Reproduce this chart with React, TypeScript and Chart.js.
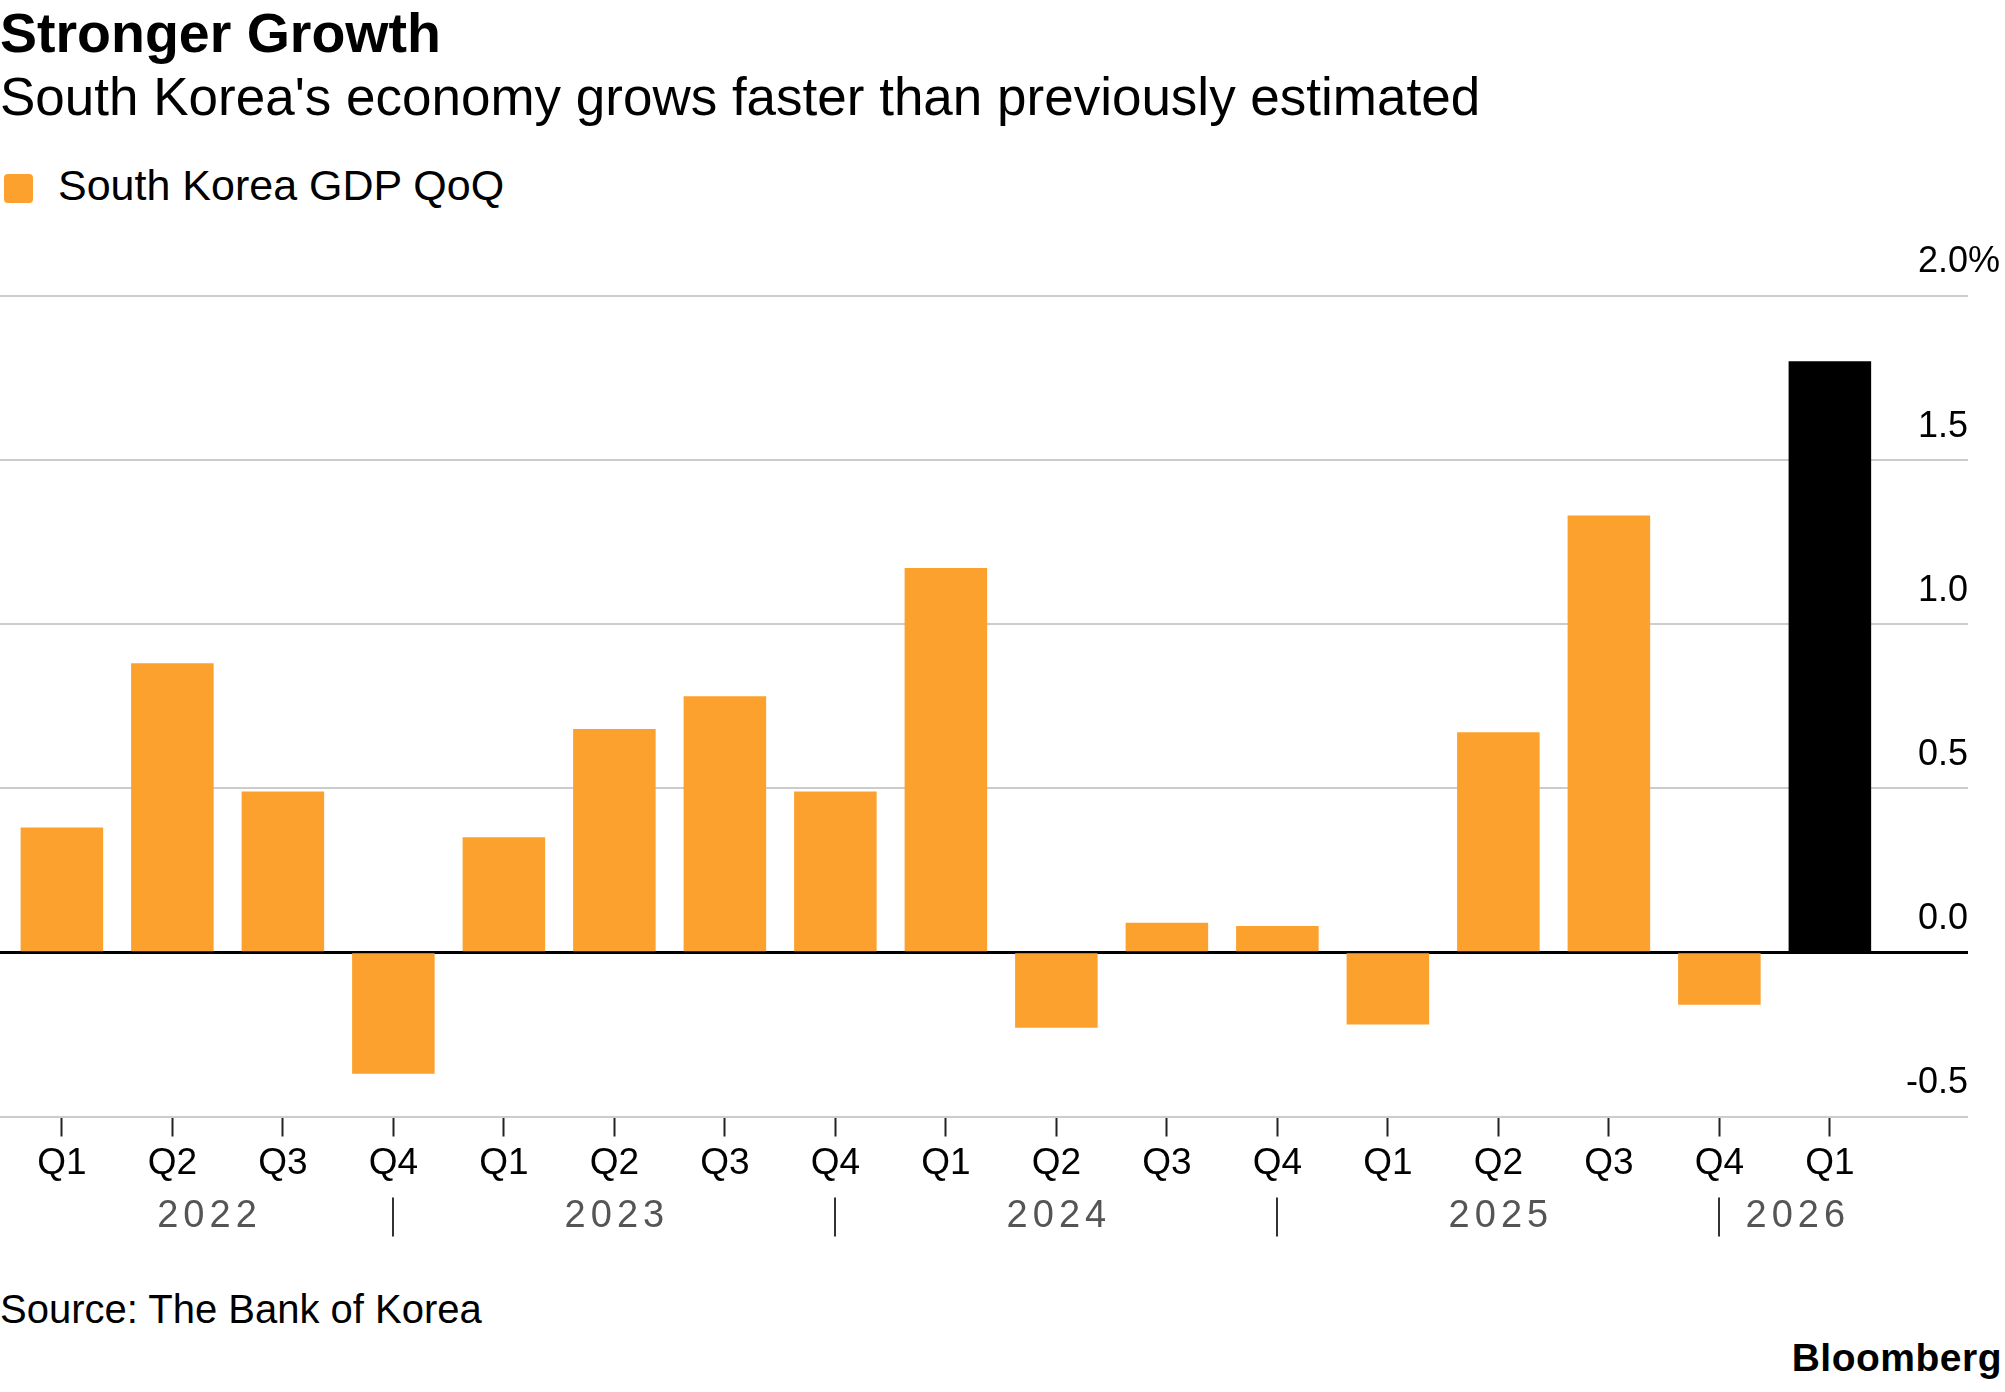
import React, { useEffect, useRef } from 'react';
import { Chart, registerables } from 'chart.js';

Chart.register(...registerables);

// ---- data ----
const quarters = ['Q1', 'Q2', 'Q3', 'Q4', 'Q1', 'Q2', 'Q3', 'Q4', 'Q1', 'Q2', 'Q3', 'Q4', 'Q1', 'Q2', 'Q3', 'Q4', 'Q1'];
const gdpQoQ = [0.38, 0.88, 0.49, -0.37, 0.35, 0.68, 0.78, 0.49, 1.17, -0.23, 0.09, 0.08, -0.22, 0.67, 1.33, -0.16, 1.8];
const years = ['2022', '2023', '2024', '2025', '2026'];
const yTicks = [-0.5, 0, 0.5, 1.0, 1.5, 2.0];

// ---- styles ----
const ORANGE = '#FCA12D';
const BLACK = '#000000';
const FONT = "'Liberation Sans', Arial, Helvetica, sans-serif";
const Y_LABEL_OFFSET = -33;
const Y_PAD = 0;
const BAR_PCT = 0.747;

export default function App() {
  const ref = useRef<HTMLCanvasElement>(null);

  useEffect(() => {
    const canvas = ref.current;
    if (!canvas) return;

    const yearPlugin = {
      id: 'yearAxis',
      afterDraw(chart: any) {
        const { ctx, chartArea, scales } = chart;
        const xs = scales.x;
        const ys = scales.y;
        const lastIdx = quarters.length - 1;
        const half = BAR_PCT / 2;
        ctx.save();
        // year separators at each Q4 tick
        ctx.strokeStyle = '#333333';
        ctx.lineWidth = 2;
        years.forEach((_, k) => {
          const q4 = 4 * k + 3;
          if (q4 < lastIdx) {
            const px = Math.round(xs.getPixelForValue(q4));
            ctx.beginPath();
            ctx.moveTo(px, chartArea.bottom + 81);
            ctx.lineTo(px, chartArea.bottom + 120);
            ctx.stroke();
          }
        });
        // year labels
        ctx.font = `38px ${FONT}`;
        ctx.fillStyle = '#555555';
        ctx.textAlign = 'center';
        ctx.textBaseline = 'alphabetic';
        (ctx as any).letterSpacing = '5px';
        years.forEach((yr, k) => {
          const start = Math.max(-half, 4 * k - 1);
          const end = Math.min(lastIdx + half, 4 * k + 3);
          const cx = (xs.getPixelForValue(start) + xs.getPixelForValue(end)) / 2;
          ctx.fillText(yr, cx + 2.5, chartArea.bottom + 110.5);
        });
        (ctx as any).letterSpacing = '0px';
        // hanging percent sign on top y label
        ctx.font = `36px ${FONT}`;
        ctx.fillStyle = '#000000';
        ctx.textAlign = 'left';
        ctx.textBaseline = 'middle';
        ctx.fillText('%', chartArea.right + Y_PAD, ys.getPixelForValue(ys.max) + Y_LABEL_OFFSET);
        ctx.restore();
      },
    };

    const chart = new Chart(canvas, {
      type: 'bar',
      data: {
        datasets: [
          {
            label: 'South Korea GDP QoQ',
            data: gdpQoQ.map((v, i) => ({ x: i, y: v })),
            backgroundColor: gdpQoQ.map((_, i) => (i === gdpQoQ.length - 1 ? BLACK : ORANGE)),
            borderWidth: 0,
            barPercentage: BAR_PCT,
            categoryPercentage: 1,
          },
        ],
      },
      options: {
        animation: false,
        responsive: true,
        maintainAspectRatio: false,
        layout: { padding: { top: 65.5, right: 37, left: 0, bottom: 0 } },
        plugins: {
          legend: { display: false },
          tooltip: { enabled: false },
          title: { display: false },
        },
        scales: {
          x: {
            type: 'linear',
            offset: false,
            min: -0.56,
            max: 17.25,
            afterBuildTicks: (s: any) => {
              s.ticks = quarters.map((_, i) => ({ value: i }));
            },
            afterFit: (s: any) => {
              s.height = 153.5;
            },
            grid: {
              display: true,
              offset: false,
              drawOnChartArea: false,
              drawTicks: true,
              tickLength: 20,
              tickColor: '#222222',
              tickWidth: 2,
            },
            border: { display: false },
            ticks: {
              autoSkip: false,
              maxRotation: 0,
              minRotation: 0,
              padding: 5,
              color: '#000000',
              font: { family: FONT, size: 37 },
              callback: (_v: any, index: number) => quarters[index] ?? '',
            },
          },
          y: {
            type: 'linear',
            position: 'right',
            min: -0.5,
            max: 2.0,
            afterBuildTicks: (s: any) => {
              s.ticks = yTicks.map((v) => ({ value: v }));
            },
            grid: { color: '#cccccc', lineWidth: 2, drawTicks: false },
            border: { display: false },
            ticks: {
              mirror: true,
              padding: Y_PAD,
              labelOffset: Y_LABEL_OFFSET,
              color: '#000000',
              font: { family: FONT, size: 36 },
              callback: (v: any) => Number(v).toFixed(1),
            },
          },
          y2: {
            type: 'linear',
            position: 'right',
            min: -0.5,
            max: 2.0,
            z: 1,
            afterBuildTicks: (s: any) => {
              s.ticks = [{ value: 0 }];
            },
            grid: { color: '#000000', lineWidth: 3, drawTicks: false },
            border: { display: false },
            ticks: { display: false },
          },
        },
      } as any,
      plugins: [yearPlugin],
    });

    return () => {
      chart.destroy();
    };
  }, []);

  return (
    <div
      style={{
        position: 'absolute',
        left: 0,
        top: 0,
        width: 2005,
        height: 1392,
        background: '#ffffff',
        fontFamily: FONT,
        color: '#000000',
        overflow: 'hidden',
        whiteSpace: 'nowrap',
      }}
    >
      <div style={{ position: 'absolute', left: 0, top: 3, fontSize: 55.5, lineHeight: '60px', fontWeight: 700 }}>
        Stronger Growth
      </div>
      <div style={{ position: 'absolute', left: 0, top: 67, fontSize: 53, lineHeight: '60px' }}>
        South Korea's economy grows faster than previously estimated
      </div>
      <div
        style={{
          position: 'absolute',
          left: 4,
          top: 174,
          width: 29,
          height: 29,
          borderRadius: 4,
          background: ORANGE,
        }}
      />
      <div style={{ position: 'absolute', left: 58, top: 160, fontSize: 43, lineHeight: '50px' }}>
        South Korea GDP QoQ
      </div>
      <div style={{ position: 'absolute', left: 0, top: 230, width: 2005, height: 1040 }}>
        <canvas ref={ref} />
      </div>
      <div style={{ position: 'absolute', left: 0, top: 1286, fontSize: 40, lineHeight: '46px' }}>
        Source: The Bank of Korea
      </div>
      <div
        style={{
          position: 'absolute',
          right: 3,
          top: 1336,
          fontSize: 39,
          lineHeight: '44px',
          fontWeight: 700,
          letterSpacing: '0.5px',
        }}
      >
        Bloomberg
      </div>
    </div>
  );
}
